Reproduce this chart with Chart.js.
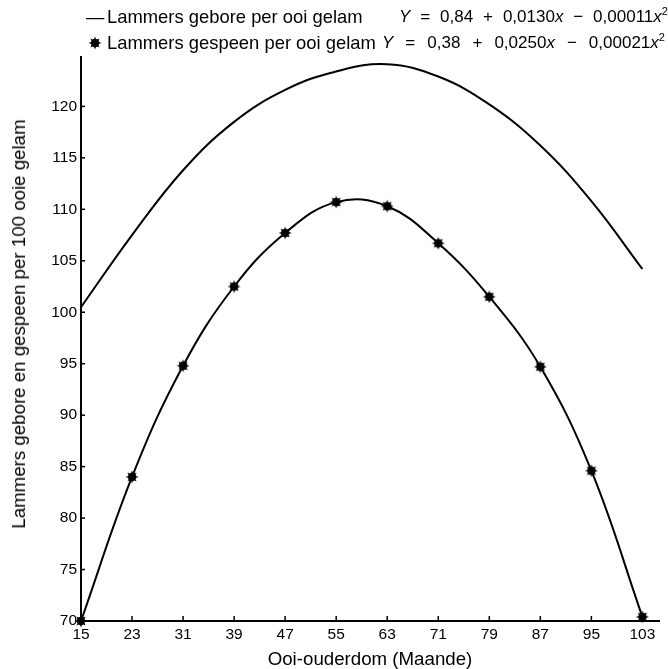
<!DOCTYPE html>
<html>
<head>
<meta charset="utf-8">
<script src="https://cdn.jsdelivr.net/npm/chart.js@4.4.1/dist/chart.umd.min.js"></script>
<style>
  html, body { margin: 0; padding: 0; background: #fff; }
  #wrap { position: relative; width: 668px; height: 669px; overflow: hidden; }
  canvas#c { position: absolute; left: 0; top: 0; }
  .leg { position: absolute; font-family: "Liberation Sans", Arial, sans-serif; font-size: 18.4px; color: #000; white-space: nowrap; line-height: 20px; }
  .eq { display: flex; justify-content: space-between; font-size: 17px; }
  .eq i { font-style: italic; }
  sup { font-size: 11px; vertical-align: 7px; line-height: 0; }
  #ytitle { position: absolute; font-family: "Liberation Sans", Arial, sans-serif; font-size: 18.7px; line-height: 20px; color: #000; white-space: nowrap;
            left: 19px; top: 324px; transform: translate(-50%, -50%) rotate(-90deg); }
</style>
</head>
<body>
<div id="wrap">
  <canvas id="c" width="668" height="669"></canvas>
  <div class="leg" style="left:86px; top:7px;">—</div>
  <div class="leg" style="left:107px; top:7px;">Lammers gebore per ooi gelam</div>
  <div class="leg eq" style="left:399px; top:7px; width:269px;"><i>Y</i><span>=</span><span>0,84</span><span>+</span><span>0,0130<i>x</i></span><span>−</span><span>0,00011<i>x</i><sup>2</sup></span></div>
  <img id="legStar" style="position:absolute; left:88px; top:36px;" width="14" height="14">
  <div class="leg" style="left:107px; top:33px;">Lammers gespeen per ooi gelam</div>
  <div class="leg eq" style="left:382px; top:33px; width:283px;"><i>Y</i><span>=</span><span>0,38</span><span>+</span><span>0,0250<i>x</i></span><span>−</span><span>0,00021<i>x</i><sup>2</sup></span></div>
  <div id="ytitle">Lammers gebore en gespeen per 100 ooie gelam</div>
</div>
<script>
// ---- Data ----
const ageMonths = [15, 23, 31, 39, 47, 55, 63, 71, 79, 87, 95, 103];
const lambsBorn = [100.5, 107.5, 113.8, 118.5, 121.6, 123.4, 124.1, 122.9, 120.2, 116.2, 110.8, 104.2];
const lambsWeaned = [70.0, 84.0, 94.8, 102.5, 107.7, 110.7, 110.3, 106.7, 101.5, 94.7, 84.6, 70.4];
const yTickValues = [70, 75, 80, 85, 90, 95, 100, 105, 110, 115, 120];
const xTickValues = [15, 23, 31, 39, 47, 55, 63, 71, 79, 87, 95, 103];
const labelBorn = 'Lammers gebore per ooi gelam';
const labelWeaned = 'Lammers gespeen per ooi gelam';

// star marker image
function makeStar(size) {
  const cv = document.createElement('canvas');
  cv.width = size; cv.height = size;
  const g = cv.getContext('2d');
  const c = size / 2, ro = size / 2 - 0.5, ri = size / 4.2;
  g.beginPath();
  for (let i = 0; i < 16; i++) {
    const a = i * Math.PI / 8;
    const r = i % 2 === 0 ? ro : ri;
    const px = c + r * Math.cos(a), py = c + r * Math.sin(a);
    if (i === 0) g.moveTo(px, py); else g.lineTo(px, py);
  }
  g.closePath();
  g.fillStyle = '#000';
  g.fill();
  g.beginPath(); g.arc(c, c, ri + 0.8, 0, Math.PI * 2); g.fill();
  return cv;
}
const star = makeStar(14);
document.getElementById('legStar').src = star.toDataURL();

const tickFont = { family: '"Liberation Sans", Arial, sans-serif', size: 15.5 };
const titleFont = { family: '"Liberation Sans", Arial, sans-serif', size: 18.7, lineHeight: 1 };

const insideTicks = {
  id: 'insideTicks',
  afterDraw(chart) {
    const ctx = chart.ctx, xs = chart.scales.x, ys = chart.scales.y;
    ctx.save();
    ctx.strokeStyle = '#000';
    ctx.lineWidth = 1.5;
    const bottom = ys.getPixelForValue(ys.min);
    const left = xs.getPixelForValue(xs.min);
    xTickValues.forEach(v => {
      const px = xs.getPixelForValue(v);
      ctx.beginPath(); ctx.moveTo(px, bottom); ctx.lineTo(px, bottom - 5); ctx.stroke();
    });
    yTickValues.forEach(v => {
      const py = ys.getPixelForValue(v);
      ctx.beginPath(); ctx.moveTo(left, py); ctx.lineTo(left + 4, py); ctx.stroke();
    });
    ctx.restore();
  }
};

new Chart(document.getElementById('c'), {
  type: 'line',
  data: {
    datasets: [
      {
        label: labelBorn,
        data: ageMonths.map((x, i) => ({ x, y: lambsBorn[i] })),
        borderColor: '#000',
        borderWidth: 2,
        pointRadius: 0,
        tension: 0.4,
        clip: false
      },
      {
        label: labelWeaned,
        data: ageMonths.map((x, i) => ({ x, y: lambsWeaned[i] })),
        borderColor: '#000',
        borderWidth: 2,
        pointStyle: star,
        pointRadius: 7,
        tension: 0.4,
        clip: false
      }
    ]
  },
  options: {
    responsive: false,
    animation: false,
    events: [],
    layout: { padding: { top: 57, right: 0, left: 0, bottom: 0 } },
    plugins: { legend: { display: false }, tooltip: { enabled: false } },
    scales: {
      x: {
        type: 'linear',
        min: 15,
        max: 105.6,
        afterBuildTicks: s => { s.ticks = xTickValues.map(v => ({ value: v })); },
        afterFit: s => { s.height = 48; },
        grid: { drawOnChartArea: false, drawTicks: false },
        border: { display: true, color: '#000', width: 2 },
        ticks: { color: '#000', font: tickFont, padding: 4, maxRotation: 0, autoSkip: false },
        title: { display: true, text: 'Ooi-ouderdom (Maande)', color: '#000', font: titleFont, padding: { top: 0, bottom: 0 } }
      },
      y: {
        type: 'linear',
        min: 70,
        max: 124.8,
        afterBuildTicks: s => { s.ticks = yTickValues.map(v => ({ value: v })); },
        afterFit: s => { s.width = 81; },
        grid: { drawOnChartArea: false, drawTicks: false },
        border: { display: true, color: '#000', width: 2 },
        ticks: { color: '#000', font: tickFont, padding: 4, autoSkip: false },
        title: { display: false }
      }
    }
  },
  plugins: [insideTicks]
});
</script>
</body>
</html>
